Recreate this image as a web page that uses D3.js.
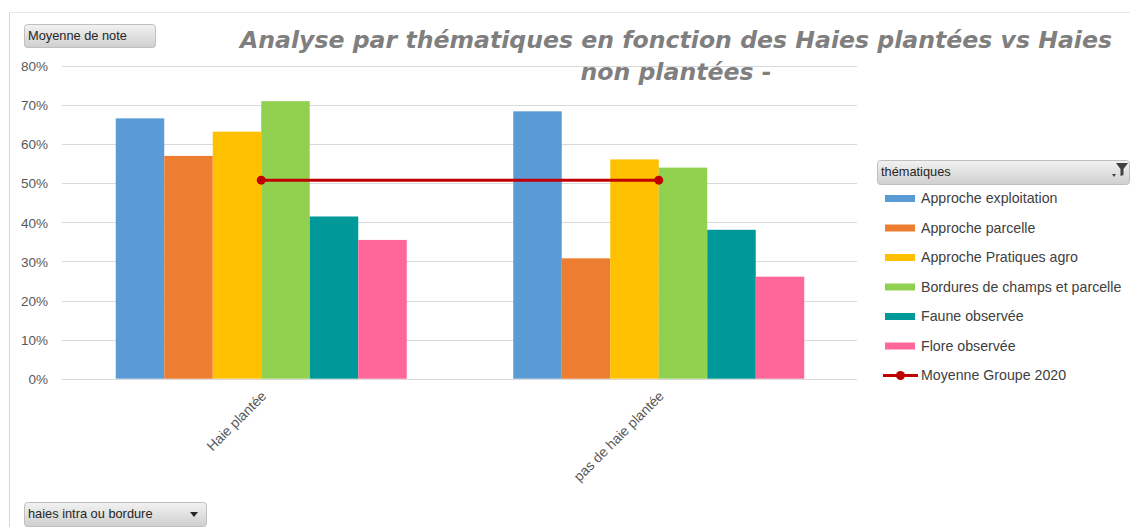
<!DOCTYPE html>
<html><head><meta charset="utf-8">
<script src="https://cdn.jsdelivr.net/npm/d3@7"></script>
<style>body{margin:0;background:#fff}svg{display:block}</style>
</head><body>
<svg id="c" width="1130" height="527"></svg>
<script>
const categories = ["Haie plantée", "pas de haie plantée"];
const seriesNames = ["Approche exploitation","Approche parcelle","Approche Pratiques agro","Bordures de champs et parcelle","Faune observée","Flore observée"];
const seriesColors = ["#5B9BD5","#ED7D31","#FFC000","#92D050","#009999","#FF6699"];
const valuesHaie = [0.666, 0.570, 0.632, 0.710, 0.415, 0.355];
const valuesPas = [0.684, 0.308, 0.561, 0.540, 0.381, 0.261];
const lineName = "Moyenne Groupe 2020";
const lineValues = [0.508, 0.508];
const yTicks = [0,0.1,0.2,0.3,0.4,0.5,0.6,0.7,0.8];
const title1 = "Analyse par thématiques en fonction des Haies plantées vs Haies";
const title2 = "non plantées -";

const svg = d3.select("#c");
const font = "'Liberation Sans', Arial, sans-serif";

const defs = svg.append("defs");
const g1 = defs.append("linearGradient").attr("id","btn").attr("x1",0).attr("y1",0).attr("x2",0).attr("y2",1);
g1.append("stop").attr("offset","0%").attr("stop-color","#f2f2f2");
g1.append("stop").attr("offset","100%").attr("stop-color","#cfcfcf");

svg.append("line").attr("x1",9.5).attr("x2",9.5).attr("y1",12).attr("y2",527).attr("stroke","#d9d9d9");
svg.append("line").attr("x1",9.5).attr("x2",1130).attr("y1",12.5).attr("y2",12.5).attr("stroke","#e6e6e6");

const x0 = d3.scaleBand().domain(categories).range([62.5, 857.5]).paddingInner(0.268).paddingOuter(0.134);
const x1 = d3.scaleBand().domain(seriesNames).range([0, x0.bandwidth()]);
const y = d3.scaleLinear().domain([0,0.8]).range([378.7, 66]);

svg.append("g").selectAll("line").data(yTicks).join("line")
  .attr("x1",62).attr("x2",857).attr("y1",d=>Math.round(y(d))+0.5).attr("y2",d=>Math.round(y(d))+0.5)
  .attr("stroke","#d9d9d9").attr("stroke-width",1);

const yAxis = d3.axisLeft(y).tickValues(yTicks).tickFormat(d3.format(".0%")).tickSize(0).tickPadding(0);
const ya = svg.append("g").attr("transform","translate(48,0)").call(yAxis);
ya.select(".domain").remove();
ya.selectAll("text").attr("font-family",font).attr("font-size",13.5).attr("fill","#595959").attr("dy","0.35em");

const data = categories.map((c,i)=>({cat:c, vals:(i===0?valuesHaie:valuesPas)}));
const grp = svg.append("g").selectAll("g").data(data).join("g").attr("transform",d=>`translate(${x0(d.cat)},0)`);
grp.selectAll("rect").data(d=>d.vals.map((v,j)=>({name:seriesNames[j],v,color:seriesColors[j]}))).join("rect")
  .attr("x",d=>x1(d.name)).attr("width",x1.bandwidth())
  .attr("y",d=>y(d.v)).attr("height",d=>y(0)-y(d.v)).attr("fill",d=>d.color);

const cx = c=>x0(c)+x0.bandwidth()/2;
const lineData = categories.map((c,i)=>({c,v:lineValues[i]}));
svg.append("path").datum(lineData)
  .attr("d",d3.line().x(d=>cx(d.c)).y(d=>y(d.v)))
  .attr("stroke","#C00000").attr("stroke-width",3).attr("fill","none");
svg.append("g").selectAll("circle").data(lineData).join("circle")
  .attr("cx",d=>cx(d.c)).attr("cy",d=>y(d.v)).attr("r",4.5).attr("fill","#C00000");

svg.append("g").selectAll("text").data(categories).join("text")
  .attr("transform",d=>`translate(${cx(d)+6},${397}) rotate(-45)`)
  .attr("text-anchor","end").attr("font-family",font).attr("font-size",13.8).attr("fill","#595959")
  .text(d=>d);

const t = svg.append("text").attr("font-family","'DejaVu Sans', Verdana, sans-serif").attr("font-weight","bold")
  .attr("font-style","italic").attr("font-size",23.6).attr("fill","#7f7f7f").attr("text-anchor","middle");
t.append("tspan").attr("x",676).attr("y",48).text(title1);
t.append("tspan").attr("x",676).attr("y",80).text(title2);

function button(x,yy,w,h,label){
  const g = svg.append("g");
  g.append("rect").attr("x",x+0.5).attr("y",yy+0.5).attr("width",w).attr("height",h).attr("rx",3)
    .attr("fill","url(#btn)").attr("stroke","#bfbfbf");
  g.append("text").attr("x",x+4).attr("y",yy+h/2).attr("dy","0.35em").attr("font-family",font)
    .attr("font-size",12.8).attr("fill","#262626").text(label);
  return g;
}
button(24,24,131,23,"Moyenne de note");
const b2 = button(24,502,182,24,"haies intra ou bordure");
b2.append("path").attr("d","M190,512 L198,512 L194,517 Z").attr("fill","#262626");

const lh = button(877,160,252,24,"thématiques");
lh.append("path").attr("d","M1116,163 L1128,163 L1123.5,169 L1123.5,175 L1120.5,176 L1120.5,169 Z").attr("fill","#404040");
lh.append("path").attr("d","M1112,174 L1116,174 L1114,177 Z").attr("fill","#404040");

const legendItems = seriesNames.map((n,i)=>({n,color:seriesColors[i],type:"bar"})).concat([{n:lineName,color:"#C00000",type:"line"}]);
const lg = svg.append("g").selectAll("g").data(legendItems).join("g")
  .attr("transform",(d,i)=>`translate(0,${198.5+i*29.5})`);
lg.filter(d=>d.type==="bar").append("rect").attr("x",885).attr("y",-3.5).attr("width",30).attr("height",7).attr("fill",d=>d.color);
lg.filter(d=>d.type==="line").append("line").attr("x1",883).attr("x2",918).attr("y1",0).attr("y2",0).attr("stroke","#C00000").attr("stroke-width",3);
lg.filter(d=>d.type==="line").append("circle").attr("cx",900.5).attr("cy",0).attr("r",4.5).attr("fill","#C00000");
lg.append("text").attr("x",921).attr("y",0).attr("dy","0.35em").attr("font-family",font).attr("font-size",14.2).attr("fill","#404040").text(d=>d.n);
</script>
</body></html>
